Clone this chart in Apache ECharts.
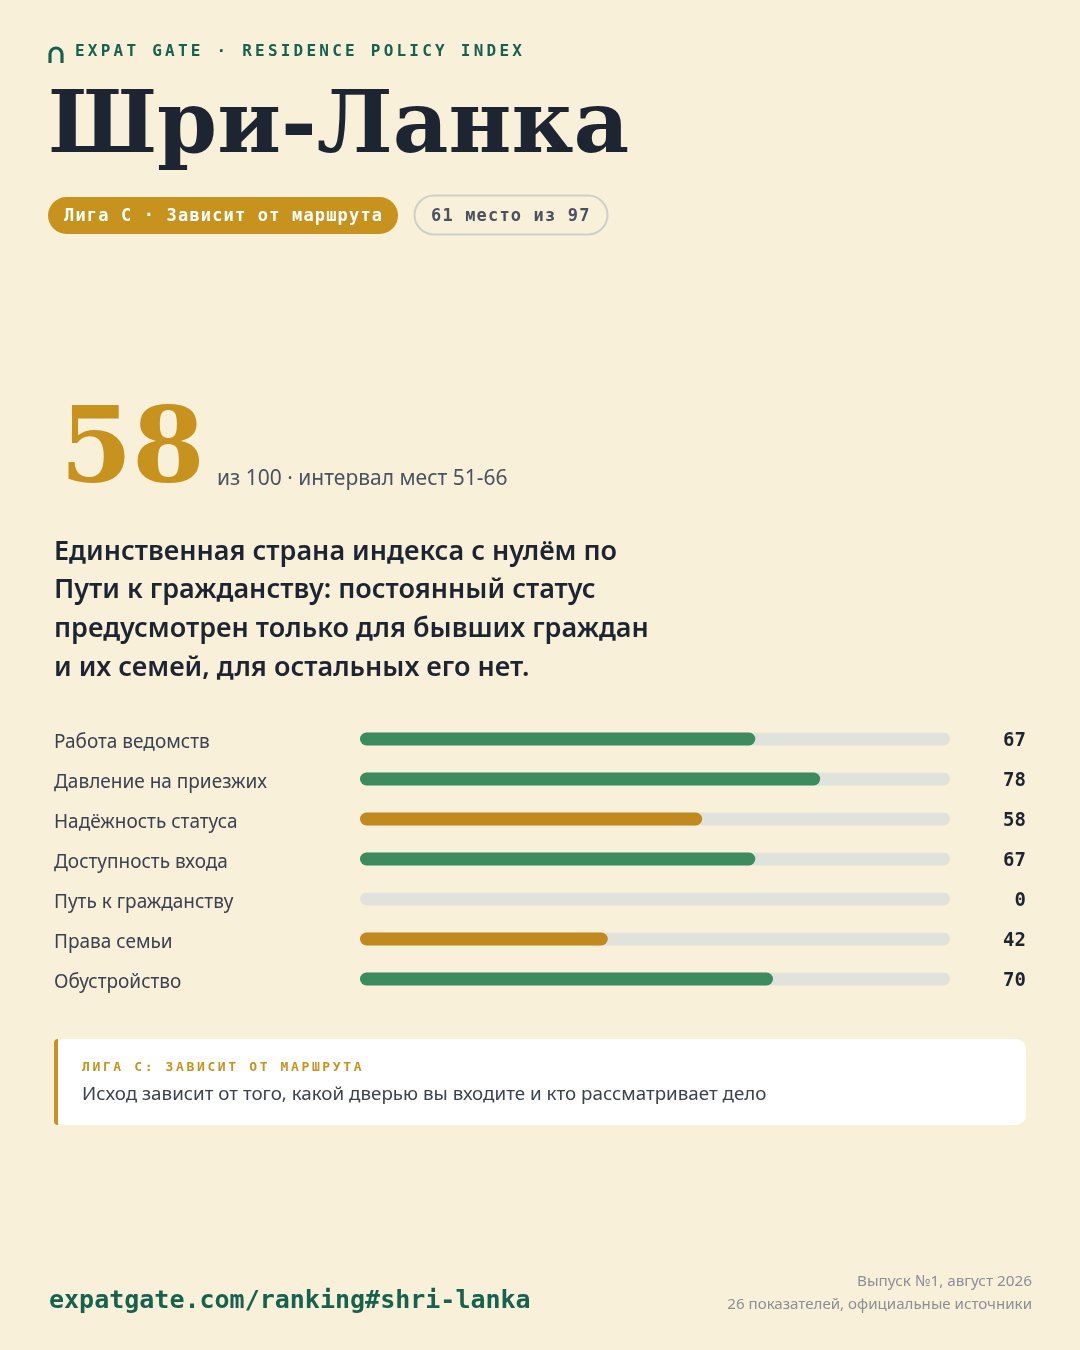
<!DOCTYPE html>
<html>
<head>
<meta charset="utf-8">
<script src="https://cdn.jsdelivr.net/npm/echarts@6/dist/echarts.min.js"></script>
<style>
  html, body { margin: 0; padding: 0; background: #F9F0DA; }
  #chart { width: 1080px; height: 1350px; }
</style>
</head>
<body>
<div id="chart"></div>
<script>
const categories = [
    'Работа ведомств',
    'Давление на приезжих',
    'Надёжность статуса',
    'Доступность входа',
    'Путь к гражданству',
    'Права семьи',
    'Обустройство'
];
const scores = [67, 78, 58, 67, 0, 42, 70];
const bodyLines = [
    'Единственная страна индекса с нулём по',
    'Пути к гражданству: постоянный статус',
    'предусмотрен только для бывших граждан',
    'и их семей, для остальных его нет.'
];

const GREEN = '#3D8B5F';
const GOLD = '#C28A1E';
const TEAL = '#17614F';
const DARK = '#1E2532';
const MONO = '"DejaVu Sans Mono", "Liberation Mono", monospace';
const SANS = '"Noto Sans", "Open Sans", sans-serif';
const SERIF = '"DejaVu Serif", "Liberation Serif", serif';

const barColor = (v) => (v >= 60 ? GREEN : GOLD);

const getText = (x, y, text, style) => ({
    type: 'text',
    x: x,
    y: y,
    style: {
        text: text,
        fill: DARK,
        textVerticalAlign: 'middle',
        ...style
    }
});

// mono text with tracking: one element per character, fixed pitch
const getSpacedText = (x, y, text, pitch, style) => {
    return Array.from(text).map((ch, i) => getText(x + i * pitch, y, ch, style));
};

const getHeaderGraphics = () => [
    // little arch logo
    {
        type: 'arc',
        shape: { cx: 56, cy: 54, r: 6, startAngle: Math.PI, endAngle: Math.PI * 2 },
        style: { stroke: TEAL, lineWidth: 3.2, fill: null }
    },
    {
        type: 'line',
        shape: { x1: 50, y1: 54, x2: 50, y2: 63 },
        style: { stroke: TEAL, lineWidth: 3.2 }
    },
    {
        type: 'line',
        shape: { x1: 62, y1: 54, x2: 62, y2: 63 },
        style: { stroke: TEAL, lineWidth: 3.2 }
    },
    ...getSpacedText(75, 52, 'EXPAT GATE · RESIDENCE POLICY INDEX', 12.86, {
        font: 'bold 16px ' + MONO, fill: TEAL
    }),
    getText(48, 130, 'Шри-Ланка', {
        font: 'bold 86px ' + SERIF, fill: DARK
    }),
    {
        type: 'rect',
        shape: { x: 48, y: 197, width: 350, height: 37, r: 18.5 },
        style: { fill: '#C8921E' }
    },
    ...getSpacedText(64, 217, 'Лига C · Зависит от маршрута', 11.4, {
        font: 'bold 17px ' + MONO, fill: '#FFFFFF'
    }),
    {
        type: 'rect',
        shape: { x: 414.5, y: 195.5, width: 193, height: 39, r: 19.5 },
        style: { fill: 'transparent', stroke: '#CBD0CB', lineWidth: 2 }
    },
    ...getSpacedText(431, 217, '61 место из 97', 11.4, {
        font: 'bold 17px ' + MONO, fill: '#4A5262'
    })
];

const getScoreGraphics = () => {
    const list = [
        getText(60, 455, '58', {
            font: 'bold 104px ' + SERIF, fill: '#C8921E'
        }),
        getText(217, 479, 'из 100 · интервал мест 51-66', {
            font: '21px ' + SANS, fill: '#4A5262'
        })
    ];
    bodyLines.forEach((line, i) => {
        list.push(getText(54, 552 + i * 38.8, line, {
            font: '600 27px ' + SANS, fill: DARK
        }));
    });
    return list;
};

const getNoteGraphics = () => [
    {
        type: 'rect',
        shape: { x: 54, y: 1039, width: 972, height: 86, r: 10 },
        style: { fill: '#FFFFFF' }
    },
    {
        type: 'rect',
        shape: { x: 54, y: 1039, width: 4, height: 86, r: [10, 0, 0, 10] },
        style: { fill: '#C8921E' }
    },
    ...getSpacedText(82, 1068, 'ЛИГА C: ЗАВИСИТ ОТ МАРШРУТА', 10.45, {
        font: 'bold 13px ' + MONO, fill: '#C8921E'
    }),
    getText(82, 1095, 'Исход зависит от того, какой дверью вы входите и кто рассматривает дело', {
        font: '18.8px ' + SANS, fill: '#3A4150'
    })
];

const getFooterGraphics = () => [
    getText(49, 1301, 'expatgate.com/ranking#shri-lanka', {
        font: 'bold 25px ' + MONO, fill: TEAL
    }),
    getText(1032, 1282, 'Выпуск №1, август 2026', {
        font: '15.3px ' + SANS, fill: '#8A8F98', align: 'right'
    }),
    getText(1032, 1305, '26 показателей, официальные источники', {
        font: '15.1px ' + SANS, fill: '#8A8F98', align: 'right'
    })
];

const settingOption = () => ({
    backgroundColor: '#F9F0DA',
    animation: false,
    grid: {
        left: 360,
        right: 130,
        top: 719,
        height: 280
    },
    xAxis: {
        type: 'value',
        min: 0,
        max: 100,
        show: false
    },
    yAxis: [{
        type: 'category',
        data: categories,
        inverse: true,
        axisLine: { show: false },
        axisTick: { show: false },
        splitLine: { show: false },
        axisLabel: {
            align: 'left',
            verticalAlign: 'top',
            lineHeight: 8,
            margin: 306,
            fontFamily: SANS,
            fontSize: 19,
            color: '#3A4150'
        }
    }, {
        type: 'category',
        data: scores.map(String),
        inverse: true,
        position: 'right',
        axisLine: { show: false },
        axisTick: { show: false },
        splitLine: { show: false },
        axisLabel: {
            align: 'right',
            verticalAlign: 'top',
            lineHeight: 4,
            margin: 76,
            fontFamily: MONO,
            fontWeight: 'bold',
            fontSize: 19,
            color: DARK
        }
    }],
    series: [{
        type: 'bar',
        yAxisIndex: 0,
        data: scores.map(v => ({ value: v, itemStyle: { color: barColor(v) } })),
        barWidth: 13,
        showBackground: true,
        backgroundStyle: {
            color: '#DFE3DC',
            borderRadius: 6.5
        },
        itemStyle: {
            borderRadius: 6.5
        }
    }],
    graphic: [
        ...getHeaderGraphics(),
        ...getScoreGraphics(),
        ...getNoteGraphics(),
        ...getFooterGraphics()
    ]
});

const myChart = echarts.init(document.getElementById('chart'), null, { renderer: 'canvas' });
myChart.setOption(settingOption());
</script>
</body>
</html>
